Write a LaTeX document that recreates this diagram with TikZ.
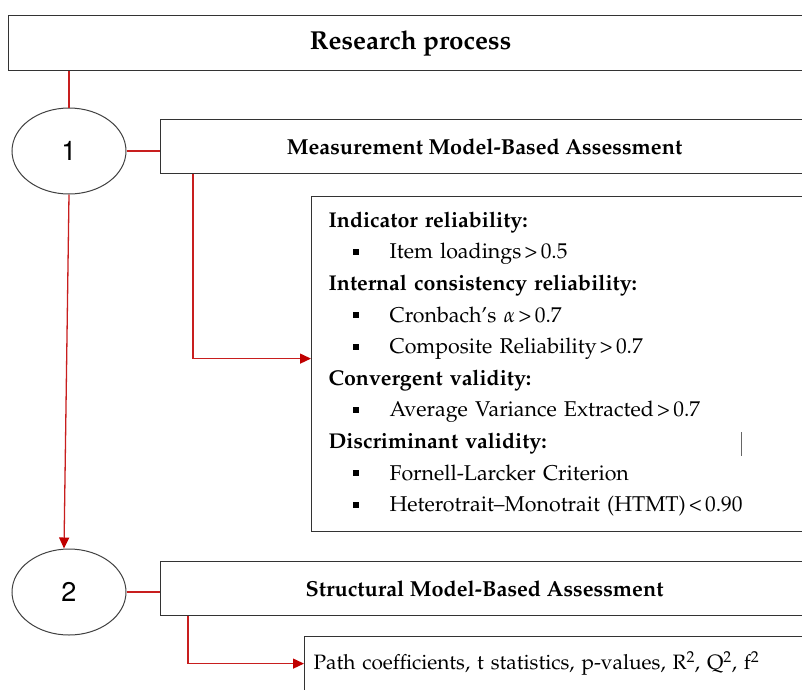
\documentclass[tikz,border=0pt]{standalone}
\usepackage[T1]{fontenc}
\usepackage{mathpazo}
\usetikzlibrary{arrows.meta,shapes.geometric}

\definecolor{linkred}{HTML}{C81E1E}
\definecolor{tipred}{HTML}{C00000}
\newcommand{\bitem}[1]{\makebox[61pt][l]{\hspace{24pt}\rule[0.18em]{0.3em}{0.3em}}#1}
\newcommand{\gtr}{\hspace{0.15em}\textgreater\hspace{0.15em}}
\newcommand{\lss}{\hspace{0.15em}\textless\hspace{0.15em}}

\begin{document}
\begin{tikzpicture}[
		x={(1pt,0pt)},
		y={(0pt,-1pt)},
		box/.style={draw=black!80,line width=1.2pt,rectangle,inner sep=0pt},
		stage/.style={draw=black!75,line width=1pt,ellipse,minimum width=114pt,minimum height=86pt,inner sep=0pt,font=\fontfamily{phv}\fontsize{27}{30}\selectfont},
		link/.style={color=linkred,line width=1.3pt},
		arr/.style={link,-{Triangle[length=11pt,width=10pt,color=tipred]}},
	]
		\useasboundingbox (0,0) rectangle (802,689);
		\clip (0,0) rectangle (802,689);
		
		\node[box,anchor=north west,minimum width=804pt,minimum height=55pt,font=\bfseries\fontsize{26}{30}\selectfont] (title) at (8,15) {Research process};
		
		\foreach \n/\y in {1/151, 2/592}{
			\node[stage] (s\n) at (69,\y) {\n};
		}
		
		\node[box,anchor=north west,minimum width=648pt,minimum height=54pt,font=\bfseries\fontsize{21.7}{24}\selectfont] (meas) at (160,119) {Measurement Model-Based Assessment};
		\node[box,anchor=north west,minimum width=648pt,minimum height=54pt,font=\bfseries\fontsize{21.7}{24}\selectfont] (struct) at (160,561) {Structural Model-Based Assessment};
		
		\node[box,anchor=north west,minimum height=335pt,inner xsep=17pt,text width=560pt,align=left,font=\fontsize{21.4}{31.6}\selectfont] (crit) at (311,196) {%
			{\bfseries Indicator reliability:}\\
			\bitem{Item loadings\gtr 0.5}\\
			{\bfseries Internal consistency reliability:}\\
			\bitem{Cronbach's $\alpha$\gtr 0.7}\\
			\bitem{Composite Reliability\gtr 0.7}\\
			{\bfseries Convergent validity:}\\
			\bitem{Average Variance Extracted\gtr 0.7}\\
			{\bfseries Discriminant validity:}\\
			\bitem{Fornell-Larcker Criterion}\\
			\bitem{Heterotrait--Monotrait (HTMT)\lss 0.90}};
		
		\node[box,anchor=north west,minimum height=54pt,inner xsep=9pt,text width=560pt,align=left,font=\fontsize{20.8}{24}\selectfont] (paths) at (304,636) {Path coefficients, t statistics, p-values, R\textsuperscript{2}, Q\textsuperscript{2}, f\textsuperscript{2}};
		
		% red connectors
		\draw[arr] (s1.south) -- ([xshift=-5pt]s2.north);
		\draw[link] (title.south -| s1.north) -- (s1.north);
		\draw[link] (s1.east) -- (s1.east -| meas.west);
		\draw[arr] ([xshift=33pt]meas.south west) |- ([yshift=5.5pt]crit.west);
		\draw[link] (s2.east) -- (s2.east -| struct.west);
		\draw[arr] ([xshift=28pt]struct.south west) |- (paths.west);
		
		\draw[black!60,line width=1pt] (741,432) -- (741,456);
	\end{tikzpicture}
\end{document}
